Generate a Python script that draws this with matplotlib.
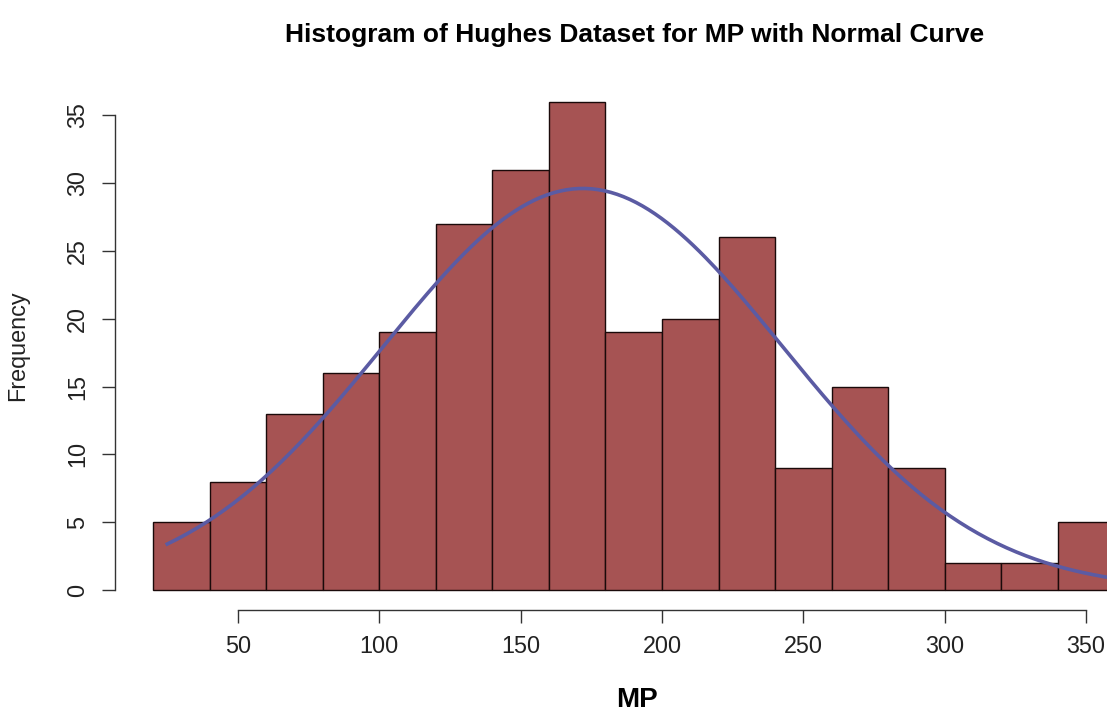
import numpy as np
import matplotlib
matplotlib.use("Agg")
import matplotlib.pyplot as plt

# histogram bins of MP (width 20) and their counts
bin_edges = [20, 40, 60, 80, 100, 120, 140, 160, 180, 200, 220, 240,
             260, 280, 300, 320, 340, 360]
counts = [5, 8, 13, 16, 19, 27, 31, 36, 19, 20, 26, 9, 15, 9, 2, 2, 5]

# normal curve parameters
mp_mean = 172
mp_sd = 70.6

x_ticks = [50, 100, 150, 200, 250, 300, 350]
y_ticks = [0, 5, 10, 15, 20, 25, 30, 35]

BAR_COLOR = "#A65353"
CURVE_COLOR = "#5B5BA3"

plt.rcParams["font.family"] = ["Liberation Sans", "DejaVu Sans"]

fig = plt.figure(figsize=(11.07, 7.18), dpi=100)
ax = fig.add_axes([0.1036, 0.1511, 0.9378, 0.7343])

lefts = bin_edges[:-1]
widths = np.diff(bin_edges)
ax.bar(lefts, counts, width=widths, align="edge", color=BAR_COLOR,
       edgecolor="#1a0a0a", linewidth=1.0)

n_total = sum(counts)
binw = bin_edges[1] - bin_edges[0]
xs = np.linspace(25, 360, 300)
dens = np.exp(-0.5 * ((xs - mp_mean) / mp_sd) ** 2) / (mp_sd * np.sqrt(2 * np.pi))
ax.plot(xs, dens * n_total * binw, color=CURVE_COLOR, linewidth=2.6)

# R style padding
ax.set_xlim(20 - 0.04 * 340, 360 + 0.04 * 340)
ax.set_ylim(-0.04 * 36, 36 * 1.04)

for side in ["top", "right"]:
    ax.spines[side].set_visible(False)
ax.spines["bottom"].set_bounds(x_ticks[0], x_ticks[-1])
ax.spines["left"].set_bounds(y_ticks[0], y_ticks[-1])
for side in ["bottom", "left"]:
    ax.spines[side].set_color("#333333")
    ax.spines[side].set_linewidth(1.0)

ax.set_xticks(x_ticks)
ax.set_yticks(y_ticks)
ax.set_yticklabels([str(v) for v in y_ticks], rotation=90, va="center")
ax.tick_params(axis="both", length=9.5, width=1.0, color="#333333",
               labelsize=16.8, labelcolor="#222222")
ax.tick_params(axis="x", pad=9)
ax.tick_params(axis="y", pad=9)

fig.text(0.0163, 0.518, "Frequency", rotation=90, ha="center", va="center",
         fontsize=16.8, color="#222222")
fig.text(0.5755, 0.025, "MP", ha="center", va="center", fontsize=20,
         fontweight="bold")
fig.text(0.5735, 0.951, "Histogram of Hughes Dataset for MP with Normal Curve",
         ha="center", va="center", fontsize=19, fontweight="bold")

fig.savefig("out.png", dpi=100)
